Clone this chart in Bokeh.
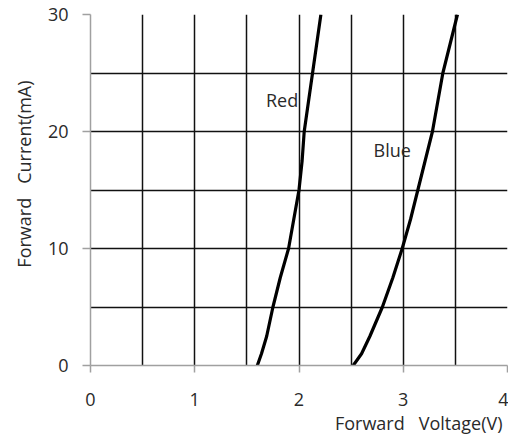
from bokeh.plotting import figure
from bokeh.models import Range1d, FixedTicker, Label, Title
from bokeh.embed import file_html
from bokeh.resources import INLINE

# ---- data ----
current_ma = [0, 1, 2.5, 5, 7.5, 10, 12.5, 15, 17.5, 20, 22.5, 25, 27.5, 30]
red_v = [1.60, 1.64, 1.69, 1.75, 1.82, 1.90, 1.95, 2.00, 2.03, 2.05, 2.09, 2.13, 2.17, 2.21]
blue_v = [2.52, 2.60, 2.68, 2.80, 2.90, 2.99, 3.07, 3.14, 3.21, 3.28, 3.33, 3.38, 3.45, 3.52]
series_names = ["Red", "Blue"]
x_ticks = [0, 1, 2, 3, 4]
y_ticks = [0, 10, 20, 30]
x_grid = [0.5, 1, 1.5, 2, 2.5, 3, 3.5, 4]
y_grid = [5, 10, 15, 20, 25, 30]
x_title = "Forward\u00a0\u00a0 Voltage(V)"
y_title = "Forward\u00a0\u00a0 Current(mA)"

FONT = "Open Sans"
FS = "18px"
TXT = "#2a2a2a"

p = figure(width=508, height=436, output_backend="svg", toolbar_location=None,
           x_range=Range1d(0, 4), y_range=Range1d(0, 30),
           min_border_left=90, min_border_right=1, min_border_top=14, min_border_bottom=71)
p.outline_line_color = None
p.background_fill_color = "white"
p.border_fill_color = "white"

# grid
p.xgrid.ticker = FixedTicker(ticks=x_grid)
p.ygrid.ticker = FixedTicker(ticks=y_grid)
for g in (p.xgrid, p.ygrid):
    g.grid_line_color = "#111111"
    g.grid_line_width = 1.5

# axes
for ax, ticks in ((p.xaxis, x_ticks), (p.yaxis, y_ticks)):
    ax.ticker = FixedTicker(ticks=ticks)
    ax.axis_line_color = "#a0a0a0"
    ax.axis_line_width = 1.5
    ax.major_tick_line_color = "#a0a0a0"
    ax.major_tick_line_width = 1.5
    ax.major_tick_in = 0
    ax.minor_tick_line_color = None
    ax.major_label_text_font = FONT
    ax.major_label_text_font_size = FS
    ax.major_label_text_color = TXT
p.xaxis.major_tick_out = 7
p.yaxis.major_tick_out = 8
p.xaxis.major_label_standoff = 20
p.yaxis.major_label_standoff = 14

# curves
p.line(red_v, current_ma, line_color="black", line_width=3.2)
p.line(blue_v, current_ma, line_color="black", line_width=3.2)

# curve labels
p.add_layout(Label(x=1.683, y=22.65, text=series_names[0], text_font=FONT,
                   text_font_size=FS, text_color=TXT,
                   text_align="left", text_baseline="middle"))
p.add_layout(Label(x=2.715, y=18.4, text=series_names[1], text_font=FONT,
                   text_font_size=FS, text_color=TXT,
                   text_align="left", text_baseline="middle"))

# axis titles as side-panel titles
p.add_layout(Title(text=x_title, align="right", offset=5, standoff=0,
                   text_font=FONT, text_font_size=FS, text_color=TXT,
                   text_font_style="normal"), "below")
p.add_layout(Title(text=y_title, align="right", offset=66, standoff=17,
                   text_font=FONT, text_font_size=FS, text_color=TXT,
                   text_font_style="normal"), "left")

open("out.html", "w").write(file_html(p, INLINE))
